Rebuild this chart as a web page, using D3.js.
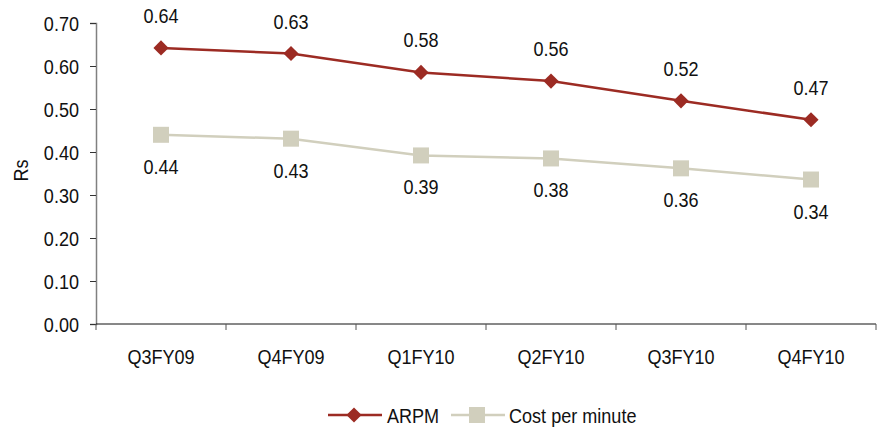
<!DOCTYPE html>
<html>
<head>
<meta charset="utf-8">
<script src="https://cdn.jsdelivr.net/npm/d3@7"></script>
<style>
  body { margin: 0; background: #fff; }
  svg text { font-family: "Liberation Sans", Arial, sans-serif; fill: #111; font-size: 21px; }
</style>
</head>
<body>
<svg width="887" height="429"></svg>
<script>
        // Data
        var categories = ["Q3FY09", "Q4FY09", "Q1FY10", "Q2FY10", "Q3FY10", "Q4FY10"];
        var arpm = [0.642, 0.629, 0.585, 0.565, 0.519, 0.475];
        var costPerMinute = [0.440, 0.431, 0.392, 0.385, 0.362, 0.336];
        var arpmLabels = ["0.64", "0.63", "0.58", "0.56", "0.52", "0.47"];
        var costLabels = ["0.44", "0.43", "0.39", "0.38", "0.36", "0.34"];
        var yTicks = [0, 0.1, 0.2, 0.3, 0.4, 0.5, 0.6, 0.7];

        var arpmColor = "#9c2b23";
        var costColor = "#d1cfbd";
        var squeeze = 0.86; // condensed look

        // Chart dimensions
        const margin = {top: 23, right: 11, bottom: 105, left: 96};
        var w = 887 - margin.left - margin.right;
        var h = 429 - margin.top - margin.bottom;

        var svg = d3.select("svg")
                    .append("g")
                    .attr("transform", "translate(" + margin.left + "," + margin.top + ")");

        // condensed text helper
        function label(parent, x, y, str, anchor) {
            return parent.append("g")
                .attr("transform", "translate(" + x + "," + y + ") scale(" + squeeze + ",1)")
                .append("text")
                .attr("text-anchor", anchor || "middle")
                .text(str);
        }

        var xScale = d3.scaleBand()
                       .domain(categories)
                       .range([0, w]);

        var yScale = d3.scaleLinear()
                       .domain([0, 0.7])
                       .range([h, 0]);

        // Y axis
        var yAxis = svg.append("g")
            .call(d3.axisLeft(yScale).tickValues(yTicks).tickFormat("").tickSizeOuter(0).tickSize(6));
        yAxis.select(".domain").attr("stroke", "#808080").attr("stroke-width", 1.5);
        yAxis.selectAll(".tick line").attr("stroke", "#333");
        yTicks.forEach(function(t) {
            label(svg, -17, yScale(t) + 7.5, d3.format(".2f")(t), "end");
        });

        // X axis with ticks at category boundaries
        var xAxisG = svg.append("g").attr("transform", "translate(0," + h + ")");
        xAxisG.append("line")
            .attr("x1", 0).attr("x2", w)
            .attr("stroke", "#111").attr("stroke-width", 1);
        var bounds = categories.map(function(c) { return xScale(c); }).concat([w]);
        xAxisG.selectAll(".bt")
            .data(bounds)
            .enter().append("line")
            .attr("x1", function(d) { return d; })
            .attr("x2", function(d) { return d; })
            .attr("y1", 0).attr("y2", 6)
            .attr("stroke", "#555");
        categories.forEach(function(c) {
            label(xAxisG, xScale(c) + xScale.bandwidth() / 2, 40, c);
        });

        // Y axis label
        svg.append("g")
            .attr("transform", "translate(-68," + (h / 2 - 3) + ") rotate(-90) scale(" + squeeze + ",1)")
            .append("text")
            .attr("text-anchor", "middle")
            .text("Rs");

        var cx = function(d, i) { return xScale(categories[i]) + xScale.bandwidth() / 2; };
        var line = d3.line()
            .x(function(d, i) { return cx(d, i); })
            .y(function(d) { return yScale(d); });

        // Cost per minute line
        svg.append("path")
            .datum(costPerMinute)
            .attr("fill", "none")
            .attr("stroke", costColor)
            .attr("stroke-width", 2.5)
            .attr("d", line);
        svg.selectAll(".cm")
            .data(costPerMinute)
            .enter().append("rect")
            .attr("x", function(d, i) { return cx(d, i) - 8; })
            .attr("y", function(d) { return yScale(d) - 8; })
            .attr("width", 16).attr("height", 16)
            .attr("fill", costColor);

        // ARPM line
        svg.append("path")
            .datum(arpm)
            .attr("fill", "none")
            .attr("stroke", arpmColor)
            .attr("stroke-width", 2.5)
            .attr("d", line);
        svg.selectAll(".am")
            .data(arpm)
            .enter().append("path")
            .attr("d", d3.symbol().type(d3.symbolSquare).size(115))
            .attr("transform", function(d, i) { return "translate(" + cx(d, i) + "," + yScale(d) + ") rotate(45)"; })
            .attr("fill", arpmColor);

        // Value labels
        arpm.forEach(function(d, i) {
            label(svg, cx(d, i), yScale(d) - 25, arpmLabels[i]);
        });
        costPerMinute.forEach(function(d, i) {
            label(svg, cx(d, i), yScale(d) + 39, costLabels[i]);
        });

        // Legend
        var legend = d3.select("svg").append("g").attr("transform", "translate(328,415)");
        legend.append("line").attr("x1", 0).attr("x2", 54).attr("stroke", arpmColor).attr("stroke-width", 2.5);
        legend.append("path")
            .attr("d", d3.symbol().type(d3.symbolSquare).size(115))
            .attr("transform", "translate(26,0) rotate(45)")
            .attr("fill", arpmColor);
        label(legend, 59, 7.5, "ARPM", "start");
        legend.append("line").attr("x1", 123).attr("x2", 177).attr("stroke", costColor).attr("stroke-width", 2.5);
        legend.append("rect").attr("x", 141).attr("y", -8).attr("width", 16).attr("height", 16).attr("fill", costColor);
        label(legend, 181, 7.5, "Cost per minute", "start");
</script>
</body>
</html>
